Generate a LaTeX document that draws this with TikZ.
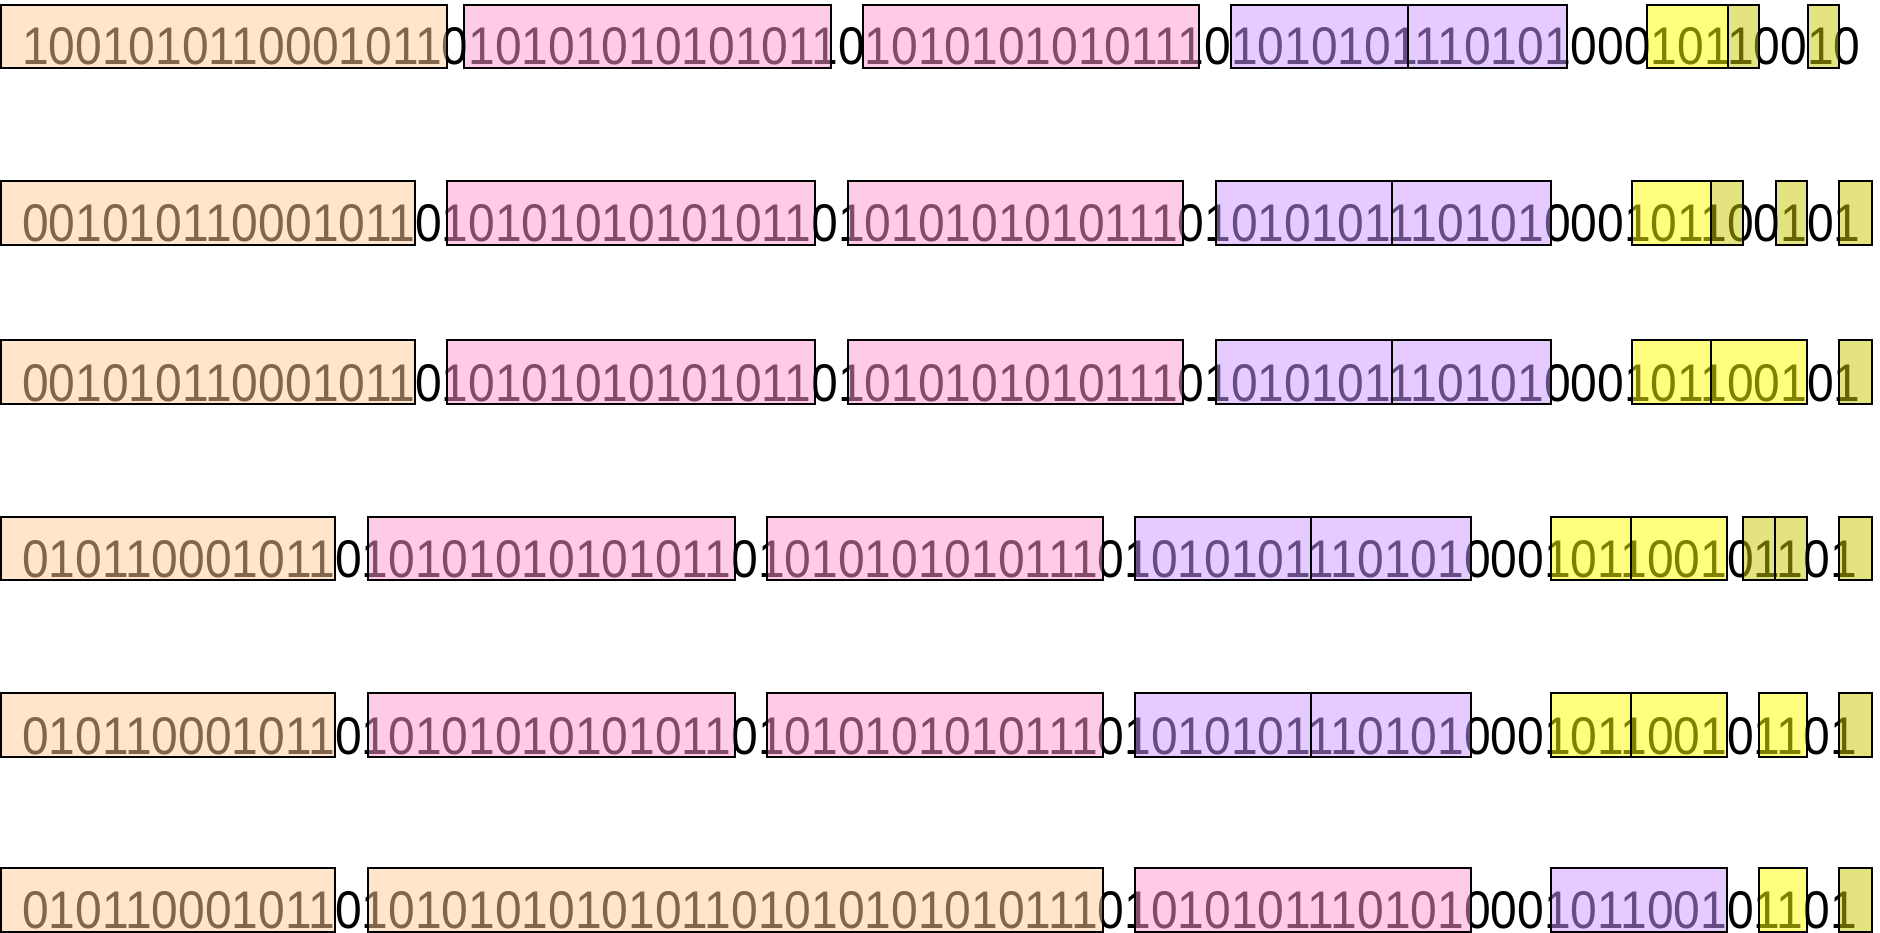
\documentclass[tikz,border=0pt]{standalone}
\usepackage{fontspec}
\newfontfamily\digitfont[FakeStretch=0.905]{Liberation Sans}
\definecolor{peachF}{HTML}{FFCC99}
\definecolor{pinkF}{HTML}{FF99CC}
\definecolor{purpleF}{HTML}{CC99FF}
\definecolor{yellowF}{HTML}{FFFF00}
\definecolor{oliveF}{HTML}{C8C800}
\begin{document}
\begin{tikzpicture}[x=1pt,y=-1pt,
  bits/.style={anchor=base west, inner sep=0pt, font=\digitfont\fontsize{53}{53}\selectfont},
  seg/.style={draw=black, line width=2pt, fill opacity=0.5, draw opacity=1}]
\useasboundingbox[fill=white] (0,0) rectangle (1880,933);
% bit strings
\node[bits] (r1) at (22,65)  {1001010110001011010101010101011010101010101110101010111010100010110010};
\node[bits] (r2) at (22,242) {0010101100010110101010101010110101010101011101010101110101000101100101};
\node[bits] (r3) at (22,401) {0010101100010110101010101010110101010101011101010101110101000101100101};
\node[bits] (r4) at (22,577) {0101100010110101010101010110101010101011101010101110101000101100101101};
\node[bits] (r5) at (22,754) {0101100010110101010101010110101010101011101010101110101000101100101101};
\node[bits] (r6) at (22,928) {0101100010110101010101010110101010101011101010101110101000101100101101};
% row 1
\draw[seg,fill=peachF]  (1,5) rectangle (447,68);
\draw[seg,fill=pinkF]   (464,5) rectangle (831,68);
\draw[seg,fill=pinkF]   (863,5) rectangle (1199,68);
\draw[seg,fill=purpleF] (1231,5) rectangle (1408,68);
\draw[seg,fill=purpleF] (1408,5) rectangle (1567,68);
\draw[seg,fill=yellowF] (1647,5) rectangle (1728,68);
\draw[seg,fill=oliveF]  (1728,5) rectangle (1759,68);
\draw[seg,fill=oliveF]  (1808,5) rectangle (1839,68);
% row 2
\draw[seg,fill=peachF]  (1,181) rectangle (415,245);
\draw[seg,fill=pinkF]   (447,181) rectangle (815,245);
\draw[seg,fill=pinkF]   (848,181) rectangle (1183,245);
\draw[seg,fill=purpleF] (1216,181) rectangle (1392,245);
\draw[seg,fill=purpleF] (1392,181) rectangle (1551,245);
\draw[seg,fill=yellowF] (1632,181) rectangle (1711,245);
\draw[seg,fill=oliveF]  (1711,181) rectangle (1743,245);
\draw[seg,fill=oliveF]  (1776,181) rectangle (1807,245);
\draw[seg,fill=oliveF]  (1839,181) rectangle (1872,245);
% row 3
\draw[seg,fill=peachF]  (1,340) rectangle (415,404);
\draw[seg,fill=pinkF]   (447,340) rectangle (815,404);
\draw[seg,fill=pinkF]   (848,340) rectangle (1183,404);
\draw[seg,fill=purpleF] (1216,340) rectangle (1392,404);
\draw[seg,fill=purpleF] (1392,340) rectangle (1551,404);
\draw[seg,fill=yellowF] (1632,340) rectangle (1711,404);
\draw[seg,fill=yellowF] (1711,340) rectangle (1807,404);
\draw[seg,fill=oliveF]  (1839,340) rectangle (1872,404);
% row 4
\draw[seg,fill=peachF]  (1,517) rectangle (335,580);
\draw[seg,fill=pinkF]   (368,517) rectangle (735,580);
\draw[seg,fill=pinkF]   (767,517) rectangle (1103,580);
\draw[seg,fill=purpleF] (1135,517) rectangle (1311,580);
\draw[seg,fill=purpleF] (1311,517) rectangle (1471,580);
\draw[seg,fill=yellowF] (1551,517) rectangle (1631,580);
\draw[seg,fill=yellowF] (1631,517) rectangle (1727,580);
\draw[seg,fill=oliveF]  (1743,517) rectangle (1775,580);
\draw[seg,fill=oliveF]  (1775,517) rectangle (1807,580);
\draw[seg,fill=oliveF]  (1839,517) rectangle (1872,580);
% row 5
\draw[seg,fill=peachF]  (1,693) rectangle (335,757);
\draw[seg,fill=pinkF]   (368,693) rectangle (735,757);
\draw[seg,fill=pinkF]   (767,693) rectangle (1103,757);
\draw[seg,fill=purpleF] (1135,693) rectangle (1311,757);
\draw[seg,fill=purpleF] (1311,693) rectangle (1471,757);
\draw[seg,fill=yellowF] (1551,693) rectangle (1631,757);
\draw[seg,fill=yellowF] (1631,693) rectangle (1727,757);
\draw[seg,fill=yellowF] (1759,693) rectangle (1807,757);
\draw[seg,fill=oliveF]  (1839,693) rectangle (1872,757);
% row 6
\draw[seg,fill=peachF]  (1,868) rectangle (335,932);
\draw[seg,fill=peachF]  (368,868) rectangle (1103,932);
\draw[seg,fill=pinkF]   (1135,868) rectangle (1471,932);
\draw[seg,fill=purpleF] (1551,868) rectangle (1727,932);
\draw[seg,fill=yellowF] (1759,868) rectangle (1807,932);
\draw[seg,fill=oliveF]  (1839,868) rectangle (1872,932);
\end{tikzpicture}
\end{document}
